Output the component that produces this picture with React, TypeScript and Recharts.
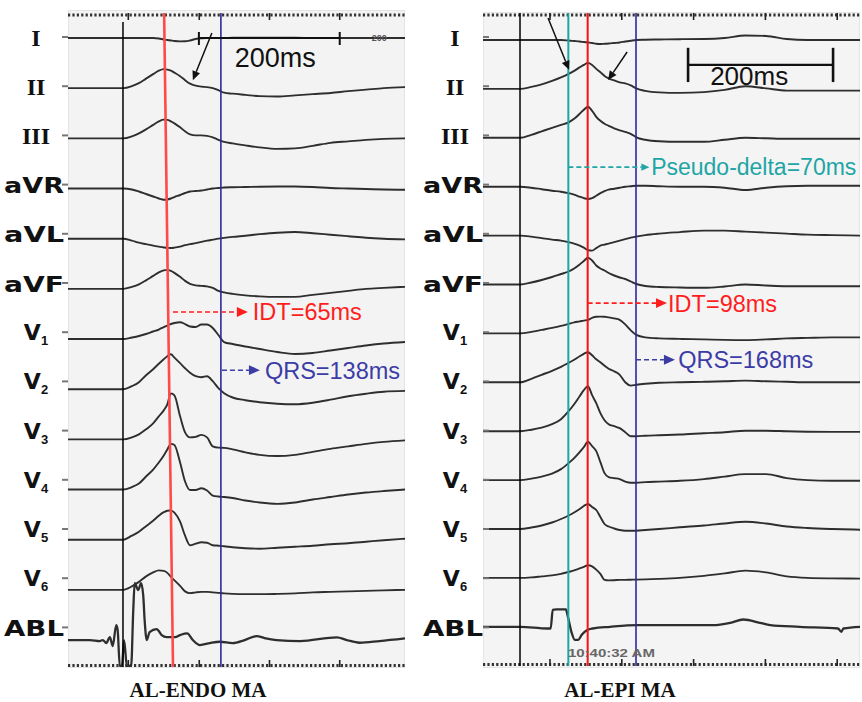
import React from 'react';
import { LineChart, Line, XAxis, YAxis, ReferenceLine, ReferenceDot } from 'recharts';

// ---------------- data ----------------
const LEADS = ['I', 'II', 'III', 'aVR', 'aVL', 'aVF', 'V1', 'V2', 'V3', 'V4', 'V5', 'V6', 'ABL'];

// AL-ENDO MA (left panel), time in ms, amplitude in trace units
const ENDO_T = [0, 40, 78, 90, 100, 110, 120, 128, 135, 140, 145, 150, 158, 165, 172, 180, 188, 196, 204, 212, 220, 232, 250, 270, 295, 320, 345, 370, 395, 420, 445, 475];
const ENDO_I = [0, 0, 0, 0, 0, 0, 0, -0.5, -1.5, -2, -2.5, -3, -3.4, -3.3, -2.5, -1, -0.3, 0, 0, 0, 0, 0.3, 0.3, 0.3, 0.3, 0.3, 0, 0, 0, 0, 0, 0];
const ENDO_II = [0, 0, 0, 2, 5, 9.5, 14, 17.5, 19, 18.5, 17.5, 15.5, 12, 8, 4.5, 2.5, 1.5, 1, 0, -2, -4.5, -5.5, -6.7, -8, -8.4, -7.2, -6, -4.8, -3, -1.5, 0, 1];
const ENDO_III = [0, 0, 0, 2, 5, 9, 13.5, 17, 18.7, 18.5, 17, 15, 11, 7, 4, 3, 3, 2.5, 1, -1.5, -3.5, -5, -7, -9, -10.5, -10, -7.5, -4.5, -3, -1.5, -0.5, 0];
const ENDO_AVR = [0, 0, 0, -1, -3, -5.5, -8, -10, -11.3, -11, -10, -8.5, -6.5, -4.5, -3, -2.5, -2, -1, 0, 0.5, 1, 1.3, 1.5, 1.8, 2, 2, 1.5, 0.5, 0, -0.5, -1, -1.3];
const ENDO_AVL = [0, 0, 0, -2, -4, -5.5, -7, -8, -8.8, -9.2, -9.3, -9, -8, -6.5, -5.5, -4.5, -3.2, -2, -1, 0, 0.8, 1.8, 3, 4.5, 6, 6.7, 5.5, 4, 2.5, 1, 0, -0.7];
const ENDO_AVF = [0, 0, 0, 2, 4.5, 8.5, 13, 16.5, 18.5, 19, 18, 16, 12, 8, 5, 3.5, 3, 2.5, 1, -2, -3.5, -5, -6.5, -7.5, -8, -8, -6, -4, -2, 0, 1, 2];
const ENDO_V1 = [0, 0, 0, 1.5, 3, 5, 7.5, 9.5, 12, 13.5, 15, 16, 16.7, 15, 12.5, 12, 14.5, 14.5, 11, 4, -3, -5, -7.5, -10, -13, -15, -14, -11.5, -9, -6.5, -4.5, -3];
const ENDO_V2 = [0, 0, 0, 3, 7, 14, 20, 25.5, 30, 33, 35, 31.5, 26, 21, 16.5, 13, 12, 13, 8, 1, -4, -8.3, -11, -13, -14.5, -15, -13.5, -10.5, -7, -4.5, -2.5, -1.7];
const ENDO_V3 = [0, 0, 0, 2, 5, 10, 16, 23, 29, 35, 46, 44, 23, 7, 2, 2.5, 4.5, 2, -7, -8.3, -8.5, -10, -13, -15.5, -16.7, -15.5, -12.5, -9.5, -7, -4.5, -2.5, -1];
const ENDO_V4 = [0, 0, 0, 2.5, 6, 13, 20, 27, 34, 40, 45.7, 44.5, 27, 8, -0.5, -0.5, 1.3, -1, -6, -7, -7.5, -8.5, -11, -13, -14.3, -13, -10, -7.5, -5, -3, -1.5, 0];
const ENDO_V5 = [0, 0, 0, 4, 8, 13.5, 19, 24, 27.5, 29, 29.3, 27, 18, 4, -5.5, -4, -2.5, -3, -5.5, -6, -6.5, -7.5, -8.5, -9, -8, -7, -6, -4.5, -3.5, -2, -0.5, 1];
const ENDO_V6 = [0, 0, 0, 3.5, 8, 13.5, 17.5, 19.5, 19, 17, 13, 9.5, 4, -1.5, -3.3, -2.5, -2, -2, -2.5, -3, -3.5, -4, -4.3, -4.3, -4, -3.5, -2.5, -2, -1.5, -1, -0.5, 0];
const ENDO_ABL_T = [0, 31, 45, 49, 54, 59, 63, 68, 70, 73, 76, 79, 83, 89, 92, 94, 99, 103, 106, 108, 111, 115, 125, 132, 139, 151, 158, 168, 176, 186, 200, 214, 232, 249, 266, 277, 294, 327, 379, 393, 411, 439, 475];
const ENDO_ABL = [0, 0, -1, 0, -3, 3, -6, 15, 10, -26, -26, 0, -26, -26, 30, 57, 50, 57, 45, 20, 0, 8, 11, 5, 3, 3, 5, 6.7, 0, -5, -3, -1.7, -3, 0, 4, 2, 0, -1, 2.7, 0, -2.7, -1, 1.7];

// AL-EPI MA (right panel)
const EPI_T = [0, 30, 54, 70, 85, 100, 113, 124, 132, 140, 146, 152, 158, 164, 170, 176, 182, 190, 198, 206, 214, 222, 235, 255, 285, 320, 350, 380, 410, 440, 470, 505, 546];
const EPI_I = [0, 0, 0, 0, 0, 0, 0, -0.5, -1, -1.5, -2, -2.5, -3, -3.7, -4, -3.8, -3.5, -3, -2.5, -1.5, -0.7, 0, 0.3, 0.5, 0.8, 1, 2, 4.5, 4, 1, 0, 0, 0];
const EPI_II = [0, 0, 0, 2, 4.5, 8, 11.5, 15, 18, 21.5, 24, 26, 24, 20, 16.7, 13, 10.5, 8.5, 6.5, 5.5, 3.5, 0.5, -2, -3.5, -4, -3.2, -1, 2.7, 0.5, -1.7, -1.7, -1.7, -1.7];
const EPI_III = [0, 0, 0, 3, 6.5, 10, 13, 15.5, 19, 24, 28, 31, 27, 21, 17, 14, 12, 9.5, 7.5, 6, 4, 0.5, -2, -3.5, -4, -4, -2, 0, -0.5, -1, -1, -1, -1];
const EPI_AVR = [0, 0, 0, -1, -2.5, -4, -5, -6.5, -8, -10, -11.5, -12.3, -11.5, -9, -6.5, -4.5, -3, -2, -1, 0, 0.5, 1, 1, 0.5, 0, 0, -1, -3.3, -1, 0.5, 1, 1, 1];
const EPI_AVL = [0, 0, 0, -1, -2.5, -4, -5, -6.5, -8, -10, -12, -14.5, -15, -12.5, -10, -9, -8, -6.5, -5, -3.5, -2, -1, 0.5, 2, 3.5, 5, 5, 4, 3, 2, 1, 0.5, 0];
const EPI_AVF = [0, 0, 0, 2, 4.5, 7.5, 10.5, 13, 16, 20, 23.5, 26.7, 24, 19, 16, 14, 11.5, 9, 7, 5.5, 3, 0.5, -1.5, -2.5, -3, -3.3, -2, 0, -1, -1.7, -1.7, -1.7, -1.7];
const EPI_V1 = [0, 0, 0, 1.5, 3.5, 5.5, 7.5, 9.5, 11, 12, 12.8, 13.5, 15.5, 16.7, 16.8, 16.7, 16, 15, 13.5, 9, 3, -1.5, -4, -5, -5.5, -6, -6.5, -6.7, -6, -5, -4.5, -4, -4];
const EPI_V2 = [0, 0, 0, 3.5, 7.5, 11.5, 15.5, 19.5, 22.5, 26, 28.5, 30, 27, 23, 20, 16.5, 13.5, 11, 7.5, 0, -3.3, -2.5, -1.5, -0.5, 0, 0.5, 1, 1.7, 1, 0.5, 0, 0, 0];
const EPI_V3 = [0, 0, 0, 1.5, 3.5, 7, 12, 20, 27, 35, 41, 45, 36, 28, 18, 11, 7, 5, 3, -1, -5, -5, -4.5, -4, -3.3, -2, -1, 0.5, 0.5, 0, -0.5, -0.7, -0.7];
const EPI_V4 = [0, 0, 0, 1.5, 3.5, 6.5, 11, 17, 22, 28, 33, 38.3, 34, 29, 18, 7, 3, 2, 1, -1.5, -2.7, -2.7, -2, -1.5, -0.7, 1, 3.5, 6, 6, 2, 0, -0.7, -0.7];
const EPI_V5 = [0, 0, 0, 1.5, 3.5, 6.5, 10, 13.5, 16.5, 20, 23, 25, 22, 19, 12, 5, 2.5, 0.5, -1, -1.7, -1.7, -1.7, -1, 0, 1.7, 3.5, 5.5, 7.3, 5.5, 2.5, 1, 0, -0.7];
const EPI_V6 = [0, 0, 0, 0.5, 1.5, 2.5, 4, 6, 7.5, 9.5, 11, 12.7, 11.5, 8.3, 4, -2, -2.5, -2.3, -2, -2, -1.8, -1.7, -1.5, -1, 0, 2, 4.5, 7.3, 5.5, 1.5, 0, -0.5, -0.7];
const EPI_ABL_T = [0, 54, 93, 98, 101, 106, 120, 123, 128, 133, 138, 143, 151, 159, 184, 223, 333, 358, 377, 401, 416, 459, 514, 519, 522, 546];
const EPI_ABL = [0, 0, -1.7, -1.7, 17, 17.4, 17.4, 10, -5, -13, -13, -8, -3.3, -1.7, 0, 1.7, 1.7, 4, 7.3, 4, 1.7, 0, -1.7, -5, -1.7, 0];

// measured intervals (ms)
const ENDO_ONSET = 77.5;
const ENDO_IDT = 65;
const ENDO_QRS = 138;
const EPI_ONSET = 53.6;
const EPI_DELTA = 70;
const EPI_IDT = 98;
const EPI_QRS = 168;

// time rulers (ms)
const ENDO_MAJOR = [85, 185, 284, 383];
const EPI_MAJOR = [97, 201, 305, 409, 513];

// ---------------- layout ----------------
const ENDO_CFG = { ms: 475, h: 654, top: 13, first: 25, step: 50.17, chartW: 405, yw: 68, right: 0, labelX: 34, dashDx: -6, rulerTop: 2, rulerBot: 1.5 };
const EPI_CFG = { ms: 546, h: 653, top: 13, first: 27, step: 48.9, chartW: 457, yw: 78, right: 2, labelX: 48, dashDx: 6, rulerTop: 2, rulerBot: 1.5 };
const LABEL_FIRST = 25;
const LABEL_STEP = 49.2;

const SERIF = '"Liberation Serif", "Times New Roman", serif';
const SANS = '"Liberation Sans", Arial, sans-serif';
const WIDE = '"DejaVu Sans", Verdana, sans-serif';
const TRACE = '#2e2e2e';
const RED = '#ff1e1e';
const BLUE = '#2a2a9c';
const TEAL = '#1ea5a5';

type Cfg = typeof ENDO_CFG;

const yL = (cfg: Cfg, lp: number) => cfg.h - cfg.first - lp * cfg.step;
const rows = (ts: number[], vs: number[], base: number) => ts.map((t, k) => ({ t, v: base + vs[k] }));
const labelTicks = (cfg: Cfg) => LEADS.map((_, i) => cfg.h - LABEL_FIRST - LABEL_STEP * i);

function leadLabel(cfg: Cfg) {
  return (p: any) => {
    const v = p.payload.value;
    const i = Math.round((cfg.h - LABEL_FIRST - v) / LABEL_STEP);
    const name = LEADS[i] || '';
    const y = p.y;
    const dash = <line x1={cfg.yw} x2={cfg.yw + cfg.dashDx} y1={y - 1} y2={y - 1} stroke="#777" strokeWidth={2} />;
    let label;
    if (/^I+$/.test(name)) {
      label = (
        <text x={cfg.labelX + 2} y={y} dy={8} textAnchor="middle" fontFamily={SERIF} fontWeight="bold" fontSize={24} fill="#111">
          {name}
        </text>
      );
    } else if (name.startsWith('V')) {
      label = (
        <text x={cfg.labelX + 2} y={y} dy={7} textAnchor="middle" fontFamily={WIDE} fontWeight="bold" fontSize={22} fill="#111">
          <tspan>V</tspan>
          <tspan dy={5} fontSize={13} fontFamily={SANS}>{name.slice(1)}</tspan>
        </text>
      );
    } else {
      label = (
        <text x={cfg.labelX} y={y} dy={7.5} textAnchor="middle" fontFamily={WIDE} fontWeight="bold" fontSize={21} fill="#111" textLength={60} lengthAdjust="spacingAndGlyphs">
          {name}
        </text>
      );
    }
    return (
      <g>
        {dash}
        {label}
      </g>
    );
  };
}

function arrowShape(color: string, width: number, dash: string | undefined, head: number) {
  return (p: any) => {
    const { x1, y1, x2, y2 } = p;
    const a = Math.atan2(y2 - y1, x2 - x1);
    const bx = x2 - head * Math.cos(a);
    const by = y2 - head * Math.sin(a);
    const w = head * 0.45;
    const pts = `${x2},${y2} ${bx - w * Math.sin(a)},${by + w * Math.cos(a)} ${bx + w * Math.sin(a)},${by - w * Math.cos(a)}`;
    return (
      <g>
        <line x1={x1} y1={y1} x2={bx} y2={by} stroke={color} strokeWidth={width} strokeDasharray={dash} />
        <polygon points={pts} fill={color} />
      </g>
    );
  };
}

function textShape(txt: string, props: any) {
  return (p: any) => (
    <text x={p.cx} y={p.cy} dy="0.36em" {...props}>
      {txt}
    </text>
  );
}

const ref = { xAxisId: 'x', yAxisId: 'y' } as const;

function axes(cfg: Cfg) {
  return [
    <XAxis key="x" xAxisId="x" dataKey="t" type="number" domain={[0, cfg.ms]} allowDataOverflow hide />,
    <YAxis key="y" yAxisId="y" type="number" domain={[0, cfg.h]} allowDataOverflow width={cfg.yw} ticks={labelTicks(cfg)} interval={0} axisLine={false} tickLine={false} tickSize={5} tick={leadLabel(cfg)} />,
  ];
}

function rulers(cfg: Cfg, major: number[]) {
  const out = [
    <ReferenceLine key="rt" {...ref} y={cfg.h - cfg.rulerTop} stroke="#333" strokeWidth={3.2} strokeDasharray="2.2 2.2" />,
    <ReferenceLine key="rb" {...ref} y={cfg.rulerBot} stroke="#333" strokeWidth={3.2} strokeDasharray="2.2 2.2" />,
  ];
  major.forEach((t) => {
    out.push(<ReferenceLine key={`mt${t}`} {...ref} segment={[{ x: t, y: cfg.h }, { x: t, y: cfg.h - 7 }]} stroke="#222" strokeWidth={1.6} />);
    out.push(<ReferenceLine key={`mb${t}`} {...ref} segment={[{ x: t, y: 0 }, { x: t, y: 7 }]} stroke="#222" strokeWidth={1.6} />);
  });
  return out;
}

function traces(cfg: Cfg, t: number[], series: number[][], ablT: number[], abl: number[]) {
  const lines = series.map((vals, i) => (
    <Line key={LEADS[i]} name={LEADS[i]} xAxisId="x" yAxisId="y" data={rows(t, vals, yL(cfg, i))} dataKey="v" type="monotone" stroke={TRACE} strokeWidth={1.9} dot={false} isAnimationActive={false} />
  ));
  lines.push(
    <Line key="ABL" name="ABL" xAxisId="x" yAxisId="y" data={rows(ablT, abl, yL(cfg, 12))} dataKey="v" type="monotone" stroke={TRACE} strokeWidth={2.3} dot={false} isAnimationActive={false} />
  );
  return lines;
}

const annText = { fontFamily: SANS, fontSize: 23.5 };

function EndoChart() {
  const c = ENDO_CFG;
  const idtY = yL(c, 5.46);
  const qrsY = yL(c, 6.62);
  return (
    <LineChart width={c.chartW} height={702} margin={{ top: c.top, right: c.right, bottom: 702 - c.top - c.h, left: 0 }}>
      {axes(c)}
      {rulers(c, ENDO_MAJOR)}
      {traces(c, ENDO_T, [ENDO_I, ENDO_II, ENDO_III, ENDO_AVR, ENDO_AVL, ENDO_AVF, ENDO_V1, ENDO_V2, ENDO_V3, ENDO_V4, ENDO_V5, ENDO_V6], ENDO_ABL_T, ENDO_ABL)}
      <ReferenceLine {...ref} segment={[{ x: ENDO_ONSET, y: c.h - 9 }, { x: ENDO_ONSET, y: 0 }]} stroke="#000" strokeWidth={1.5} />
      <ReferenceLine {...ref} segment={[{ x: ENDO_ONSET + ENDO_IDT - 7, y: c.h }, { x: ENDO_ONSET + ENDO_IDT + 5.5, y: 0 }]} stroke="#ff4a4a" strokeWidth={2.6} />
      <ReferenceLine {...ref} x={ENDO_ONSET + ENDO_QRS} stroke={BLUE} strokeWidth={1.6} />
      {/* scale bar */}
      <ReferenceLine {...ref} segment={[{ x: 184.5, y: yL(c, 0) }, { x: 383, y: yL(c, 0) }]} stroke="#111" strokeWidth={2} />
      <ReferenceLine {...ref} segment={[{ x: 184.5, y: yL(c, -0.12) }, { x: 184.5, y: yL(c, 0.14) }]} stroke="#111" strokeWidth={2} />
      <ReferenceLine {...ref} segment={[{ x: 383, y: yL(c, -0.12) }, { x: 383, y: yL(c, 0.14) }]} stroke="#111" strokeWidth={2} />
      <ReferenceDot {...ref} x={235} y={yL(c, 0.38)} r={0} shape={textShape('200ms', { fontFamily: SANS, fontSize: 27, fill: '#111' })} />
      <ReferenceDot {...ref} x={428} y={yL(c, 0)} r={0} shape={textShape('200', { fontFamily: SANS, fontSize: 9, fontWeight: 'bold', fill: '#555' })} />
      <ReferenceLine {...ref} segment={[{ x: 202.8, y: yL(c, -0.1) }, { x: 176, y: yL(c, 0.84) }]} shape={arrowShape('#111', 1.5, undefined, 9)} />
      {/* IDT */}
      <ReferenceLine {...ref} segment={[{ x: 148, y: idtY }, { x: 253.5, y: idtY }]} shape={arrowShape(RED, 1.6, '5 3', 11)} />
      <ReferenceDot {...ref} x={260.5} y={idtY} r={0} shape={textShape('IDT=65ms', { ...annText, fill: RED })} />
      {/* QRS */}
      <ReferenceLine {...ref} segment={[{ x: 217, y: qrsY }, { x: 270.5, y: qrsY }]} shape={arrowShape('#3c3ca6', 1.5, '5 3', 11)} />
      <ReferenceDot {...ref} x={277.5} y={qrsY} r={0} shape={textShape('QRS=138ms', { ...annText, fill: '#3c3ca6' })} />
    </LineChart>
  );
}

function EpiChart() {
  const c = EPI_CFG;
  const pdY = yL(c, 2.6);
  const idtY = yL(c, 5.38);
  const qrsY = yL(c, 6.54);
  return (
    <LineChart width={c.chartW} height={702} margin={{ top: c.top, right: c.right, bottom: 702 - c.top - c.h, left: 0 }}>
      {axes(c)}
      {rulers(c, EPI_MAJOR)}
      {traces(c, EPI_T, [EPI_I, EPI_II, EPI_III, EPI_AVR, EPI_AVL, EPI_AVF, EPI_V1, EPI_V2, EPI_V3, EPI_V4, EPI_V5, EPI_V6], EPI_ABL_T, EPI_ABL)}
      <ReferenceLine {...ref} x={EPI_ONSET} stroke="#000" strokeWidth={1.5} />
      <ReferenceLine {...ref} x={EPI_ONSET + EPI_DELTA} stroke={TEAL} strokeWidth={2} />
      <ReferenceLine {...ref} x={EPI_ONSET + EPI_IDT} stroke="#ff1010" strokeWidth={2} />
      <ReferenceLine {...ref} x={EPI_ONSET + EPI_QRS} stroke={BLUE} strokeWidth={1.6} />
      {/* scale bar */}
      <ReferenceLine {...ref} segment={[{ x: 297, y: yL(c, 0.51) }, { x: 507, y: yL(c, 0.51) }]} stroke="#111" strokeWidth={2.2} />
      <ReferenceLine {...ref} segment={[{ x: 297, y: yL(c, 0.16) }, { x: 297, y: yL(c, 0.86) }]} stroke="#111" strokeWidth={2.6} />
      <ReferenceLine {...ref} segment={[{ x: 507, y: yL(c, 0.16) }, { x: 507, y: yL(c, 0.86) }]} stroke="#111" strokeWidth={2.6} />
      <ReferenceDot {...ref} x={329} y={yL(c, 0.72)} r={0} shape={textShape('200ms', { fontFamily: SANS, fontSize: 26, fill: '#111' })} />
      <ReferenceLine {...ref} segment={[{ x: 94.2, y: yL(c, -0.45) }, { x: 124.6, y: yL(c, 0.61) }]} shape={arrowShape('#111', 1.5, undefined, 9)} />
      <ReferenceLine {...ref} segment={[{ x: 208.7, y: yL(c, 0.245) }, { x: 181.2, y: yL(c, 0.82) }]} shape={arrowShape('#111', 1.5, undefined, 9)} />
      {/* pseudo-delta */}
      <ReferenceLine {...ref} segment={[{ x: EPI_ONSET + EPI_DELTA, y: pdY }, { x: 241, y: pdY }]} shape={arrowShape(TEAL, 1.6, '5 3', 8)} />
      <ReferenceDot {...ref} x={243.5} y={pdY} r={0} shape={textShape('Pseudo-delta=70ms', { ...annText, fontSize: 23, fill: TEAL })} />
      {/* IDT */}
      <ReferenceLine {...ref} segment={[{ x: EPI_ONSET + EPI_IDT, y: idtY }, { x: 266.5, y: idtY }]} shape={arrowShape(RED, 1.6, '5 3', 11)} />
      <ReferenceDot {...ref} x={268} y={idtY} r={0} shape={textShape('IDT=98ms', { ...annText, fill: RED })} />
      {/* QRS */}
      <ReferenceLine {...ref} segment={[{ x: EPI_ONSET + EPI_QRS, y: qrsY }, { x: 278, y: qrsY }]} shape={arrowShape('#3c3ca6', 1.5, '5 3', 11)} />
      <ReferenceDot {...ref} x={282.6} y={qrsY} r={0} shape={textShape('QRS=168ms', { ...annText, fill: '#3c3ca6' })} />
      <ReferenceDot {...ref} x={123} y={yL(c, 12.54)} r={0} shape={textShape('10:40:32 AM', { fontFamily: SANS, fontSize: 11, fontWeight: 'bold', fill: '#666', textLength: 87, lengthAdjust: 'spacingAndGlyphs' })} />
    </LineChart>
  );
}

const caption: React.CSSProperties = {
  position: 'absolute',
  top: 680,
  fontFamily: SERIF,
  fontWeight: 'bold',
  fontSize: 21,
  lineHeight: '20px',
  color: '#111',
  whiteSpace: 'nowrap',
  transform: 'translateX(-50%)',
};

export default function App() {
  return (
    <div style={{ position: 'absolute', left: 0, top: 0, width: 862, height: 702, background: '#fff' }}>
      <div style={{ position: 'absolute', left: 68, top: 10, width: 337, height: 658, background: '#f3f3f3', boxShadow: 'inset 0 0 0 1px #e4e4e4' }} />
      <div style={{ position: 'absolute', left: 483, top: 12, width: 377, height: 656, background: '#f4f4f4', boxShadow: 'inset 0 0 0 1px #e6e6e6' }} />
      <div style={{ position: 'absolute', left: 0, top: 0 }}>
        <EndoChart />
      </div>
      <div style={{ position: 'absolute', left: 405, top: 0 }}>
        <EpiChart />
      </div>
      <div style={{ ...caption, left: 198 }}>AL-ENDO MA</div>
      <div style={{ ...caption, left: 620 }}>AL-EPI MA</div>
    </div>
  );
}
